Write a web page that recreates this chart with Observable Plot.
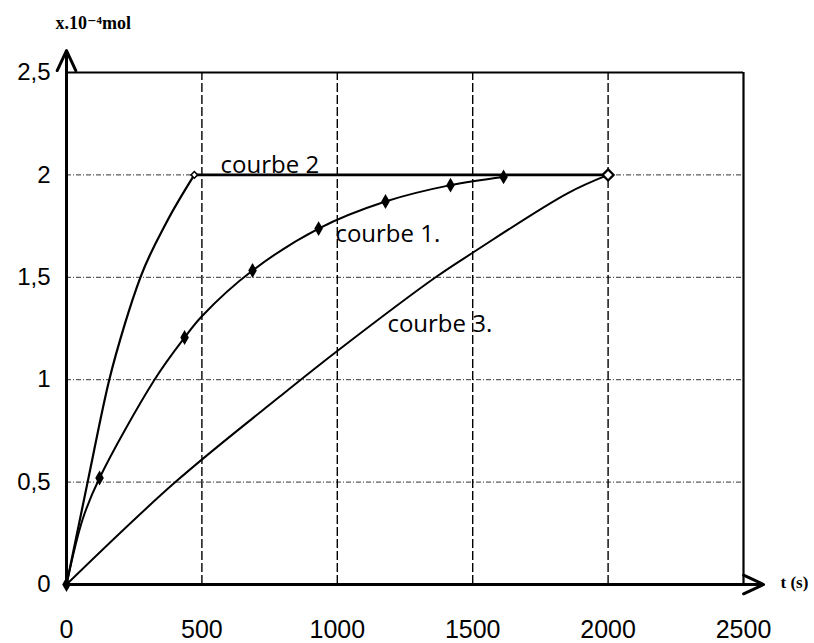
<!DOCTYPE html>
<html>
<head>
<meta charset="utf-8">
<script src="https://cdn.jsdelivr.net/npm/d3@7"></script>
<script src="https://cdn.jsdelivr.net/npm/@observablehq/plot@0.6"></script>
<style>
  html, body { margin: 0; padding: 0; background: #fff; }
  svg { display: block; }
</style>
</head>
<body>
<div id="chart"></div>
<script>
// ---- data (t in s, x in 10^-4 mol) ----
// courbe 1: measured points (diamonds) plus traced points along the curve
const tCurve1 = [0, 60, 122, 325, 436, 500, 687, 931, 1178, 1418, 1614];
const xCurve1 = [0, 0.32, 0.52, 1.0, 1.206, 1.31, 1.533, 1.738, 1.87, 1.95, 1.99];
const markT1 = [0, 122, 436, 687, 931, 1178, 1418, 1614];
const markX1 = [0, 0.52, 1.206, 1.533, 1.738, 1.87, 1.95, 1.99];
// courbe 2: rising part then plateau
const tCurve2 = [0, 78, 158, 215, 273, 370, 472];
const xCurve2 = [0, 0.5, 1.0, 1.27, 1.5, 1.77, 2.0];
const tPlateau2 = [472, 2000];
const xPlateau2 = [2.0, 2.0];
// courbe 3
const tCurve3 = [0, 402, 790, 1000, 1363, 1500, 1850, 2000];
const xCurve3 = [0, 0.5, 0.92, 1.14, 1.5, 1.62, 1.91, 2.0];

const xTicks = [0, 500, 1000, 1500, 2000, 2500];
const yTicks = [0, 0.5, 1, 1.5, 2, 2.5];
const xGrid = [500, 1000, 1500, 2000];
const yGrid = [0.5, 1, 1.5, 2];

const labelTexts = ["courbe 2", "courbe 1.", "courbe 3."];
const labelT = [569, 993, 1185];
const labelX = [2.007, 1.67, 1.235];

const yAxisTitle = "x.10⁻⁴mol";
const xAxisTitle = "t (s)";

const idx = n => d3.range(n);
const comma = d => String(d).replace(".", ",");

const chart = Plot.plot({
  width: 814,
  height: 643,
  marginLeft: 66,
  marginRight: 71,
  marginTop: 72,
  marginBottom: 59,
  style: { background: "#fff", color: "#000" },
  x: { domain: [0, 2500], axis: null },
  y: { domain: [0, 2.5], axis: null },
  marks: [
    // grid
    Plot.ruleY(yGrid, { x1: 0, x2: 2500, stroke: "#000", strokeWidth: 1, strokeDasharray: "5,2,1,2", strokeOpacity: 0.8 }),
    Plot.ruleX(xGrid, { y1: 0, y2: 2.5, stroke: "#000", strokeWidth: 1.4, strokeDasharray: "9,3" }),
    // frame top and right
    Plot.ruleY([2.5], { x1: 0, x2: 2500, stroke: "#000", strokeWidth: 2.2 }),
    Plot.ruleX([2500], { y1: 0, y2: 2.5, stroke: "#000", strokeWidth: 2.2 }),
    // curves
    Plot.line(idx(tCurve3.length), { x: tCurve3, y: xCurve3, curve: "catmull-rom", stroke: "#000", strokeWidth: 2 }),
    Plot.line(idx(tCurve1.length), { x: tCurve1, y: xCurve1, curve: "catmull-rom", stroke: "#000", strokeWidth: 2 }),
    Plot.line(idx(tCurve2.length), { x: tCurve2, y: xCurve2, curve: "monotone-x", stroke: "#000", strokeWidth: 2.2 }),
    Plot.line(idx(tPlateau2.length), { x: tPlateau2, y: xPlateau2, stroke: "#000", strokeWidth: 2.6 }),
    // markers
    Plot.dot(idx(markT1.length), { x: markT1, y: markX1, symbol: "diamond", r: 4.5, fill: "#000" }),
    Plot.dot([0], { x: [472], y: [2.0], symbol: "diamond2", r: 3, stroke: "#000", strokeWidth: 1.5, fill: "#fff" }),
    Plot.dot([0], { x: [2000], y: [2.0], symbol: "diamond2", r: 5, stroke: "#000", strokeWidth: 2.2, fill: "#fff" }),
    // axes with arrows
    Plot.arrow([0], { x1: 0, y1: 0, x2: 2574, y2: 0, stroke: "#000", strokeWidth: 3, headLength: 11, headAngle: 50 }),
    Plot.arrow([0], { x1: 0, y1: 0, x2: 0, y2: 2.607, stroke: "#000", strokeWidth: 3, headLength: 11, headAngle: 50 }),
    // tick labels
    Plot.axisY({ ticks: yTicks, tickSize: 0, tickPadding: 16, tickFormat: comma, fontSize: 24, fontFamily: "Liberation Sans, Arial, sans-serif", label: null }),
    Plot.axisX({ ticks: xTicks, tickSize: 0, tickPadding: 36, tickFormat: d => String(d), fontSize: 25, fontFamily: "Liberation Sans, Arial, sans-serif", label: null }),
    // axis titles
    Plot.text([yAxisTitle], { x: [0], y: [2.5], text: d => d, dx: -11, dy: -44, textAnchor: "start", lineAnchor: "bottom", fontSize: 18, fontWeight: "bold", fontFamily: "Liberation Serif, DejaVu Serif, serif" }),
    Plot.text([xAxisTitle], { x: [2500], y: [0], text: d => d, dx: 37, dy: 3, textAnchor: "start", lineAnchor: "bottom", fontSize: 17, fontWeight: "bold", fontFamily: "Liberation Serif, DejaVu Serif, serif" }),
    // handwritten curve labels
    Plot.text(idx(labelTexts.length), { x: labelT, y: labelX, text: labelTexts, textAnchor: "start", lineAnchor: "bottom", fontSize: 24, fontFamily: "Open Sans, sans-serif", fontWeight: 400, letterSpacing: 3.5 })
  ]
});
document.getElementById("chart").appendChild(chart);
</script>
</body>
</html>
